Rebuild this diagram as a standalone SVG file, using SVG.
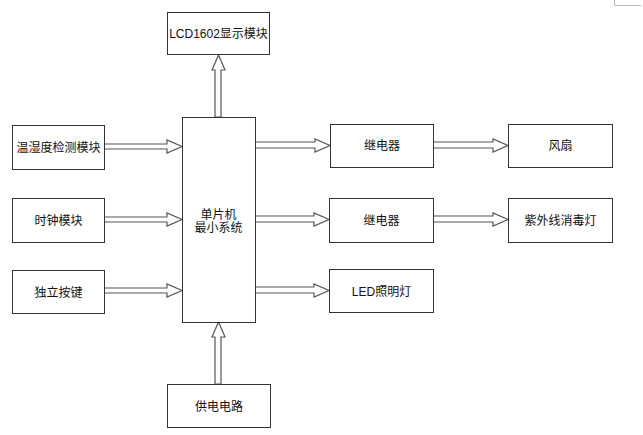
<svg xmlns="http://www.w3.org/2000/svg" width="643" height="435" viewBox="0 0 643 435">
<defs>
<style>
.box{fill:#fff;stroke:#333;stroke-width:1}
.arr{fill:#fff;stroke:#555;stroke-width:1.2;stroke-linejoin:miter}
text{font-family:"Liberation Sans","Noto Sans CJK SC",sans-serif;font-size:12px;fill:#111;text-anchor:middle}
.mark{stroke:#bbb;stroke-width:1;fill:none}
</style>
</defs>
<rect width="643" height="435" fill="#fff"/>
<path class="mark" d="M614.5,0 V5.5 H641"/>
<g id="connectors">
<path class="arr" d="M215,117 V70 H212 L218.5,55 L225,70 H221 V117 Z"/>
<path class="arr" d="M215,384 V337 H212 L218.5,322 L225,337 H221 V384 Z"/>
<path class="arr" d="M104,144 H167 V140 L182,146.5 L167,153 V149 H104 Z"/>
<path class="arr" d="M104,217 H167 V213 L182,219.5 L167,226 V222 H104 Z"/>
<path class="arr" d="M104,288 H167 V284 L182,290.5 L167,297 V293 H104 Z"/>
<path class="arr" d="M255,142 H315 V139 L330,145.5 L315,152 V148 H255 Z"/>
<path class="arr" d="M255,216 H314 V213 L329,219.5 L314,226 V222 H255 Z"/>
<path class="arr" d="M255,287 H314 V284 L329,290.5 L314,297 V293 H255 Z"/>
<path class="arr" d="M433,142 H493 V139 L508,145.5 L493,152 V148 H433 Z"/>
<path class="arr" d="M433,216 H493 V213 L508,219.5 L493,226 V222 H433 Z"/>
</g>
<g id="lcd"><rect class="box" x="167.5" y="12.5" width="102" height="42"/><text x="218.5" y="38">LCD1602显示模块</text></g>
<g id="mcu"><rect class="box" x="182.5" y="117.5" width="73" height="205"/><text x="218.5" y="219">单片机</text><text x="218.5" y="232">最小系统</text></g>
<g id="sensor"><rect class="box" x="12.5" y="125.5" width="92" height="44"/><text x="58.5" y="152">温湿度检测模块</text></g>
<g id="clock"><rect class="box" x="12.5" y="198.5" width="92" height="44"/><text x="58.5" y="225">时钟模块</text></g>
<g id="keys"><rect class="box" x="12.5" y="270.5" width="92" height="43"/><text x="58.5" y="297">独立按键</text></g>
<g id="relay1"><rect class="box" x="330.5" y="124.5" width="103" height="43"/><text x="382" y="150">继电器</text></g>
<g id="relay2"><rect class="box" x="329.5" y="198.5" width="104" height="44"/><text x="381.5" y="225">继电器</text></g>
<g id="led"><rect class="box" x="329.5" y="269.5" width="104" height="43"/><text x="381.5" y="296">LED照明灯</text></g>
<g id="fan"><rect class="box" x="508.5" y="124.5" width="104" height="43"/><text x="560.5" y="150">风扇</text></g>
<g id="uv"><rect class="box" x="508.5" y="198.5" width="104" height="44"/><text x="560.5" y="225">紫外线消毒灯</text></g>
<g id="power"><rect class="box" x="167.5" y="384.5" width="103" height="43"/><text x="219" y="411">供电电路</text></g>
</svg>
